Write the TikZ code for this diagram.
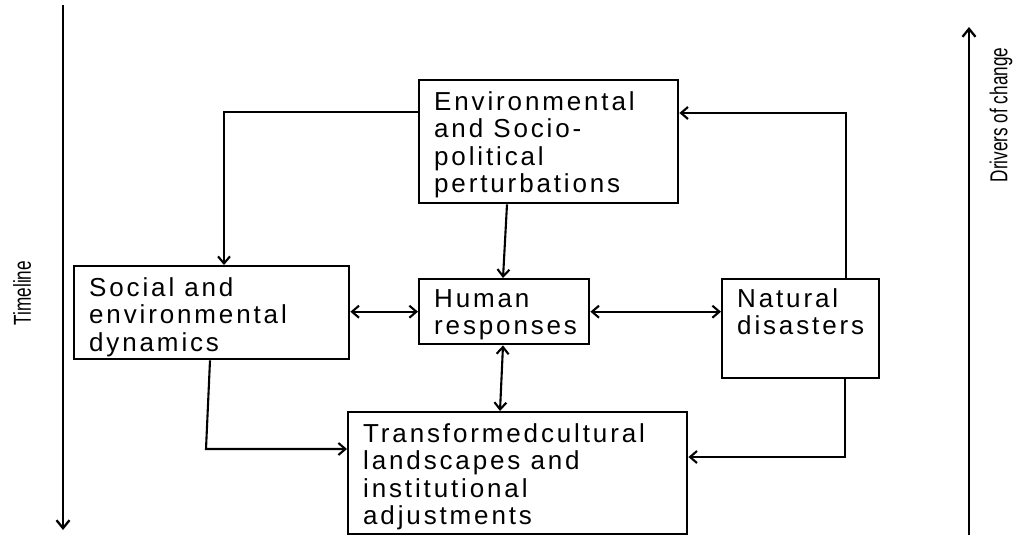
\documentclass[tikz,border=0pt]{standalone}
\usepackage{fontspec}
\setmainfont{Liberation Sans}
\newfontfamily\boxfont[LetterSpace=11]{Liberation Sans}
\newfontfamily\narrowfont[FakeStretch=0.7]{Liberation Sans}
\usetikzlibrary{arrows.meta}
\newcommand{\boxtxt}[4]{\parbox[t][#2][t]{#1}{\raggedright\leftskip=15pt\relax\rule{0pt}{#3}#4}}
\begin{document}
\begin{tikzpicture}[x=1pt,y=-1pt,
  box/.style={draw, line width=2.4pt, inner sep=0pt, anchor=north west,
    font=\boxfont\fontsize{26}{27.5}\selectfont},
  conn/.style={line width=2.1pt},
  barb/.tip={Straight Barb[length=7pt,width=12pt]},
  arr/.style={conn,-barb},
  darr/.style={conn,barb-barb},
  axis/.style={line width=2.3pt,-{Straight Barb[length=8pt,width=13pt]}},
  axlabel/.style={font=\narrowfont\fontsize{24.5}{26}\selectfont, rotate=90, inner sep=0pt}]
\useasboundingbox (0,0) rectangle (1024,538);

% boxes
\node[box] (env) at (418,79) {\boxtxt{259pt}{123pt}{30pt}{Environmental\\and Socio-\\political\\perturbations}};
\node[box] (soc) at (73,265) {\boxtxt{275pt}{93pt}{30pt}{Social and\\environmental\\dynamics}};
\node[box] (hum) at (418,278) {\boxtxt{170pt}{65pt}{28pt}{Human\\responses}};
\node[box] (nat) at (721,278) {\boxtxt{157pt}{99pt}{28pt}{Natural\\disasters}};
\node[box] (tra) at (347,411) {\boxtxt{339pt}{122pt}{30pt}{Transformedcultural\\landscapes and\\institutional\\adjustments}};

% side axes
\coordinate (tl1) at (63,5);
\coordinate (tl2) at (63,530);
\draw[axis] (tl1) -- (tl2);
\node[axlabel] (tlt) at (22,293) {Timeline};
\coordinate (dc1) at (969,535);
\coordinate (dc2) at (969,27);
\draw[axis] (dc1) -- (dc2);
\node[axlabel] (dct) at (1001,115) {Drivers of change};

% connectors
\coordinate (b1) at (224,112);
\draw[arr] (env.west |- b1) -- (b1) -- (b1 |- soc.north);
\draw[arr] ([xshift=89pt]env.south west) -- ([xshift=85pt]hum.north west);
\draw[darr] (soc.east |- hum.west) -- (hum.west);
\draw[darr] (hum.east) -- (hum.east -| nat.west);
\draw[darr] ([xshift=85pt]hum.south west) -- ([xshift=153pt]tra.north west);
\coordinate (b2) at (206,449);
\draw[arr] ([xshift=137pt]soc.south west) -- (b2) -- (b2 -| tra.west);
\coordinate (b3) at (846,113);
\draw[arr] (b3 |- nat.north) -- (b3) -- (b3 -| env.east);
\coordinate (b4) at (845,457);
\draw[arr] (b4 |- nat.south) -- (b4) -- (b4 -| tra.east);
\end{tikzpicture}
\end{document}
